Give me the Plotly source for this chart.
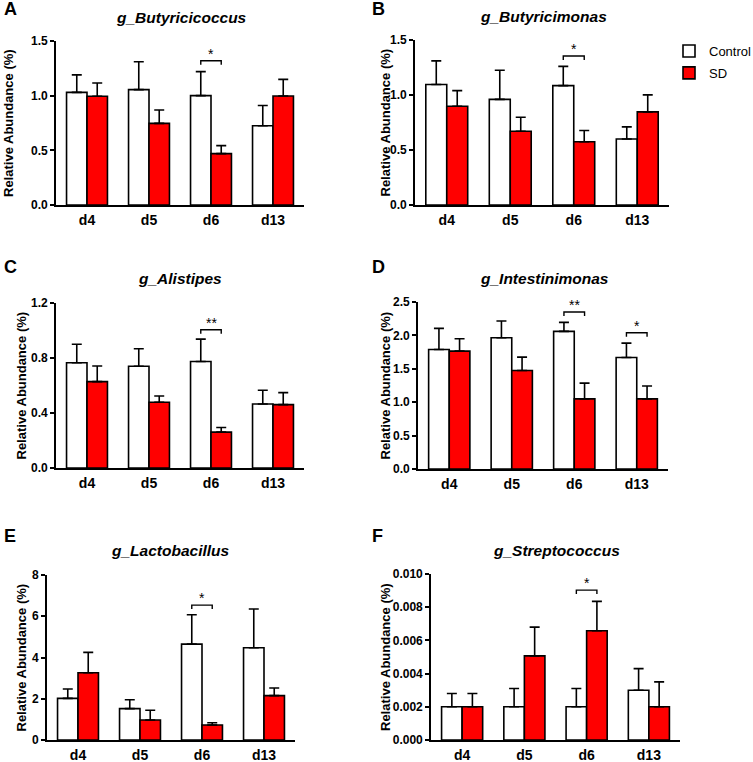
import plotly.graph_objects as go

categories = ["d4", "d5", "d6", "d13"]
groups = ["Control", "SD"]

titles = ["g_Butyricicoccus", "g_Butyricimonas", "g_Alistipes",
          "g_Intestinimonas", "g_Lactobacillus", "g_Streptococcus"]
panel_letters = ["A", "B", "C", "D", "E", "F"]

# means and upper error-bar ends (mean + SEM)
ctrl_mean = [
    [1.03, 1.055, 1.00, 0.725],
    [1.095, 0.96, 1.085, 0.60],
    [0.765, 0.74, 0.775, 0.465],
    [1.79, 1.965, 2.06, 1.67],
    [2.02, 1.52, 4.65, 4.47],
    [0.0020, 0.0020, 0.0020, 0.0030],
]
ctrl_top = [
    [1.19, 1.31, 1.22, 0.91],
    [1.31, 1.225, 1.26, 0.71],
    [0.90, 0.867, 0.937, 0.565],
    [2.105, 2.215, 2.195, 1.885],
    [2.47, 1.955, 6.07, 6.35],
    [0.0028, 0.0031, 0.0031, 0.0043],
]
sd_mean = [
    [0.995, 0.747, 0.47, 0.997],
    [0.898, 0.671, 0.575, 0.847],
    [0.628, 0.478, 0.261, 0.461],
    [1.765, 1.475, 1.05, 1.05],
    [3.26, 0.97, 0.73, 2.15],
    [0.0020, 0.00507, 0.00658, 0.0020],
]
sd_top = [
    [1.116, 0.869, 0.543, 1.149],
    [1.04, 0.798, 0.677, 1.001],
    [0.742, 0.524, 0.295, 0.548],
    [1.95, 1.675, 1.285, 1.243],
    [4.25, 1.44, 0.84, 2.52],
    [0.0028, 0.0068, 0.00835, 0.0035],
]

y_ticks = [
    [0.0, 0.5, 1.0, 1.5],
    [0.0, 0.5, 1.0, 1.5],
    [0.0, 0.4, 0.8, 1.2],
    [0.0, 0.5, 1.0, 1.5, 2.0, 2.5],
    [0, 2, 4, 6, 8],
    [0.000, 0.002, 0.004, 0.006, 0.008, 0.010],
]
y_tick_labels = [
    ["0.0", "0.5", "1.0", "1.5"],
    ["0.0", "0.5", "1.0", "1.5"],
    ["0.0", "0.4", "0.8", "1.2"],
    ["0.0", "0.5", "1.0", "1.5", "2.0", "2.5"],
    ["0", "2", "4", "6", "8"],
    ["0.000", "0.002", "0.004", "0.006", "0.008", "0.010"],
]

# significance: (panel index, category index, bracket height, label)
significance = [
    (0, 2, 1.32, "*"),
    (1, 2, 1.355, "*"),
    (2, 2, 1.005, "**"),
    (3, 2, 2.35, "**"),
    (3, 3, 2.04, "*"),
    (4, 2, 6.54, "*"),
    (5, 2, 0.00903, "*"),
]

W, H = 753, 762
# plot area boxes in pixels: (left, right, top, bottom)
boxes = [
    (56, 304, 41, 205),
    (415, 669, 40, 205),
    (56, 304, 303, 468),
    (418, 668, 302, 469),
    (47, 295, 575, 740),
    (431, 680, 574, 740),
]
title_pos = [(181, 17), (543, 16), (180, 278), (544, 278), (170, 550), (556, 550)]
letter_pos = [(2, 9), (370, 9), (2, 267), (370, 267), (2, 536), (370, 536)]
ytitle_x = [9, 385, 21, 385, 21, 385]

FONT = "Liberation Sans, Arial, sans-serif"
RED = "#FF0000"
BAR_GAP = 0.34
half = (1 - BAR_GAP) / 4  # offset of each bar centre from category centre

fig = go.Figure()
layout = {}
annotations = []
shapes = []

xs = list(range(len(categories)))
for i in range(6):
    ax = "" if i == 0 else str(i + 1)
    for g, (means, tops, color) in enumerate([(ctrl_mean, ctrl_top, "white"),
                                              (sd_mean, sd_top, RED)]):
        m = means[i]
        t = tops[i]
        fig.add_trace(go.Bar(
            x=xs, y=m, name=groups[g], legendgroup=groups[g],
            showlegend=(i == 0), offsetgroup=str(g),
            marker=dict(color=color, line=dict(color="black", width=1.6)),
            error_y=dict(type="data", symmetric=False,
                         array=[tt - mm for tt, mm in zip(t, m)],
                         arrayminus=[0] * len(m),
                         color="black", thickness=1.6, width=5),
            xaxis="x" + ax, yaxis="y" + ax,
        ))
    l, r, t_, b = boxes[i]
    ymax = y_ticks[i][-1]
    layout["xaxis" + ax] = dict(
        domain=[l / W, r / W], anchor="y" + ax, range=[-0.5, 3.5],
        tickvals=xs, ticktext=categories, showline=True, linecolor="black",
        linewidth=1.6, ticks="", showgrid=False, zeroline=False,
        tickfont=dict(family=FONT, size=14, color="black", weight="bold"),
        ticklabelstandoff=1, fixedrange=True, automargin=False,
    )
    layout["yaxis" + ax] = dict(
        domain=[1 - b / H, 1 - t_ / H], anchor="x" + ax, range=[0, ymax],
        tickvals=y_ticks[i], ticktext=y_tick_labels[i], showline=True,
        linecolor="black", linewidth=1.6, ticks="outside", ticklen=4,
        tickwidth=1.6, tickcolor="black", showgrid=False, zeroline=False,
        tickfont=dict(family=FONT, size=12, color="black", weight="bold"),
        automargin=False, fixedrange=True,
    )
    tx, ty = title_pos[i]
    annotations.append(dict(
        text="<b><i>" + titles[i] + "</i></b>", x=tx / W, y=1 - ty / H,
        xref="paper", yref="paper", showarrow=False, xanchor="center",
        yanchor="middle", font=dict(family=FONT, size=15.5, color="black")))
    lx, ly = letter_pos[i]
    annotations.append(dict(
        text="<b>" + panel_letters[i] + "</b>", x=lx / W, y=1 - ly / H,
        xref="paper", yref="paper", showarrow=False, xanchor="left",
        yanchor="middle", font=dict(family=FONT, size=18, color="black")))
    annotations.append(dict(
        text="<b>Relative Abundance (%)</b>", x=ytitle_x[i] / W,
        y=1 - (t_ + b) / 2 / H, xref="paper", yref="paper", showarrow=False,
        textangle=-90, xanchor="center", yanchor="middle",
        font=dict(family=FONT, size=13, color="black")))

for (p, c, yb, lab) in significance:
    ax = "" if p == 0 else str(p + 1)
    l, r, t_, b = boxes[p]
    ymax = y_ticks[p][-1]
    drop = 4.0 / (b - t_) * ymax
    x0, x1 = c - half, c + half
    shapes.append(dict(
        type="path", xref="x" + ax, yref="y" + ax,
        path=f"M {x0},{yb - drop} L {x0},{yb} L {x1},{yb} L {x1},{yb - drop}",
        line=dict(color="black", width=1.4)))
    annotations.append(dict(
        text=lab, x=c, y=yb, xref="x" + ax, yref="y" + ax, showarrow=False,
        xanchor="center", yanchor="bottom", yshift=-3,
        font=dict(family=FONT, size=14, color="black")))

fig.update_layout(
    width=W, height=H, margin=dict(l=0, r=0, t=0, b=0, autoexpand=False),
    paper_bgcolor="white", plot_bgcolor="white",
    barmode="group", bargap=BAR_GAP, bargroupgap=0,
    showlegend=True,
    legend=dict(x=669 / W, y=1 - 36 / H, xanchor="left", yanchor="top",
                font=dict(family=FONT, size=13, color="black"),
                bgcolor="rgba(0,0,0,0)", tracegroupgap=2, itemwidth=30),
    annotations=annotations, shapes=shapes,
    **layout,
)

fig.write_html("out.html",
               config={"displayModeBar": False},
               post_script="document.body.style.margin='0';"
                           "document.body.style.overflow='hidden';")
